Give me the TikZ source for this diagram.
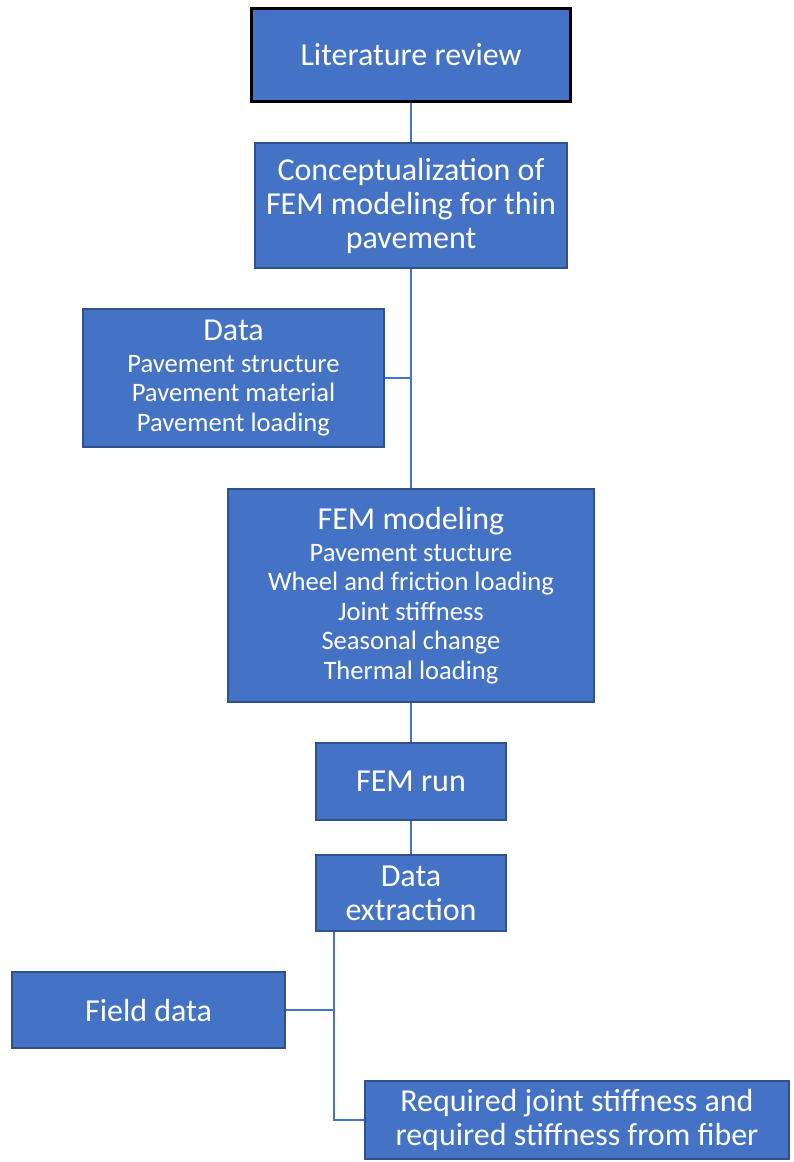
\documentclass[tikz,border=0pt]{standalone}
\usepackage{fontspec}
\setmainfont{Carlito}
\usepackage{tikz}
\usetikzlibrary{calc}
\usepackage{xcolor}

\definecolor{boxblue}{HTML}{4472C4}
\definecolor{edgeblue}{HTML}{2F528F}

\newcommand{\bigtxt}{\fontsize{32}{34}\selectfont}
\newcommand{\subtxt}{\fontsize{26.6}{29.5}\selectfont}

\tikzset{
  box/.style={rectangle, draw=edgeblue, line width=2.5pt, fill=boxblue, text=white,
    align=center, inner sep=0pt, font=\bigtxt},
  listbox/.style={box, font=\subtxt},
  topbox/.style={box, draw=black, line width=3pt},
  link/.style={draw=boxblue, line width=2pt}
}

\begin{document}
\begin{tikzpicture}[x=1pt,y=-1pt]
          % Frame
          \useasboundingbox (0,0) rectangle (793,1162);

          % Boxes
          \node[topbox, minimum width=319pt, minimum height=93pt] (litrev) at (411,55) {Literature review};
          \node[box, minimum width=312pt, minimum height=125pt] (concept) at (411,205.5)
            {Conceptualization of\\FEM modeling for thin\\pavement};
          \node[listbox, minimum width=301pt, minimum height=138pt] (datain) at (233.5,378)
            {\bigtxt Data\\[2pt]Pavement structure\\Pavement material\\Pavement loading};
          \node[listbox, minimum width=366pt, minimum height=213pt] (femmodel) at (411,595.5)
            {\bigtxt FEM modeling\\[2pt]Pavement stucture\\Wheel and friction loading\\Joint stiffness\\Seasonal change\\Thermal loading};
          \node[box, minimum width=190pt, minimum height=77pt] (femrun) at (411,781.5) {FEM run};
          \node[box, minimum width=190pt, minimum height=76pt] (extract) at (411,893) {Data\\extraction};
          \node[box, minimum width=273pt, minimum height=76pt] (field) at (148.5,1010) {Field data};
          \node[box, minimum width=424pt, minimum height=78pt] (required) at (577,1120)
            {Required joint stiffness and\\required stiffness from fiber};

          % Branch point under data extraction
          \coordinate (branch) at ([xshift=-77pt]extract.south);

          % Connectors
          \draw[link] (litrev) -- (concept);
          \draw[link] (concept) -- (femmodel);
          \draw[link] (datain.east) -- (datain.east -| concept.south);
          \draw[link] (femmodel) -- (femrun);
          \draw[link] (femrun) -- (extract);
          \draw[link] (branch) |- (required.west);
          \draw[link] (field.east) -- (field.east -| branch);

        \end{tikzpicture}
\end{document}
